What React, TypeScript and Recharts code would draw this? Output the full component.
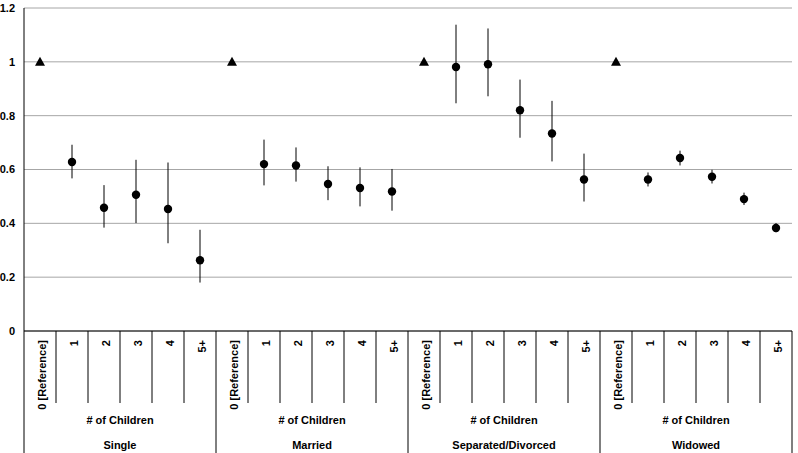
import React from "react";
import { ComposedChart, Line, XAxis, YAxis, CartesianGrid, ErrorBar } from "recharts";

const groups = ["Single", "Married", "Separated/Divorced", "Widowed"];
const childCats = ["0 [Reference]", "1", "2", "3", "4", "5+"];
const subTitle = "# of Children";
const refValue = 1;

const singleEst = [0.628, 0.458, 0.506, 0.453, 0.263];
const singleLo = [0.567, 0.384, 0.401, 0.326, 0.18];
const singleHi = [0.692, 0.542, 0.636, 0.626, 0.376];

const marriedEst = [0.62, 0.615, 0.546, 0.531, 0.518];
const marriedLo = [0.541, 0.555, 0.486, 0.463, 0.447];
const marriedHi = [0.711, 0.682, 0.612, 0.608, 0.602];

const sepEst = [0.981, 0.991, 0.82, 0.734, 0.563];
const sepLo = [0.846, 0.872, 0.718, 0.63, 0.481];
const sepHi = [1.138, 1.124, 0.934, 0.855, 0.659];

const widEst = [0.563, 0.643, 0.573, 0.49, 0.383];
const widLo = [0.537, 0.615, 0.548, 0.468, 0.366];
const widHi = [0.589, 0.67, 0.599, 0.514, 0.401];

const yTicks = [0, 0.2, 0.4, 0.6, 0.8, 1, 1.2];

const estByGroup = [singleEst, marriedEst, sepEst, widEst];
const loByGroup = [singleLo, marriedLo, sepLo, widLo];
const hiByGroup = [singleHi, marriedHi, sepHi, widHi];

const data: any[] = [];
groups.forEach((g, gi) => {
  childCats.forEach((c, ci) => {
    const est = ci === 0 ? null : estByGroup[gi][ci - 1];
    data.push({
      key: `${gi}|${ci}`,
      group: g,
      label: c,
      gi,
      ci,
      ref: ci === 0 ? refValue : null,
      est,
      err: ci === 0 ? null : [est! - loByGroup[gi][ci - 1], hiByGroup[gi][ci - 1] - est!],
    });
  });
});

const FONT = "'Liberation Sans', Arial, sans-serif";
const FS = 11;
const W = 798;
const H = 453;
const AX_H = 122;

const CircleDot = (props: any) => {
  const { cx, cy, index } = props;
  if (cy == null || cx == null || isNaN(cy)) return <g key={`c${index}`} />;
  return <circle key={`c${index}`} cx={cx} cy={cy} r={4.2} fill="#000" />;
};

const TriDot = (props: any) => {
  const { cx, cy, index } = props;
  if (cy == null || cx == null || isNaN(cy)) return <g key={`t${index}`} />;
  const s = 5;
  return (
    <path
      key={`t${index}`}
      d={`M${cx},${cy - s} L${cx + s},${cy + s * 0.8} L${cx - s},${cy + s * 0.8} Z`}
      fill="#000"
    />
  );
};

const XTick = (props: any) => {
  const { x, y, payload, index, visibleTicksCount } = props;
  const count = visibleTicksCount || data.length;
  const axisW = typeof props.width === "number" ? props.width : 768;
  const half = axisW / count / 2;
  const row = data[index] || data[payload.index];
  const ci = row.ci;
  const short = 72;
  const full = AX_H;
  const groupW = half * 2 * childCats.length;
  const left = x - half;
  return (
    <g>
      <line
        x1={left}
        x2={left}
        y1={y}
        y2={y + (ci === 0 ? full : short)}
        stroke="#000"
        strokeWidth={1}
      />
      {index === count - 1 && (
        <line x1={x + half} x2={x + half} y1={y} y2={y + full} stroke="#000" strokeWidth={1} />
      )}
      <text
        x={x + 1.5}
        y={y + 9}
        transform={`rotate(-90, ${x + 1.5}, ${y + 9})`}
        textAnchor="end"
        dominantBaseline="central"
        fontFamily={FONT}
        fontWeight="bold"
        fontSize={FS}
        fill="#000"
      >
        {row.label}
      </text>
      {ci === 0 && (
        <>
          <text
            x={left + groupW / 2}
            y={y + 89}
            textAnchor="middle"
            dominantBaseline="central"
            fontFamily={FONT}
            fontWeight="bold"
            fontSize={FS}
            fill="#000"
          >
            {subTitle}
          </text>
          <text
            x={left + groupW / 2}
            y={y + 114}
            textAnchor="middle"
            dominantBaseline="central"
            fontFamily={FONT}
            fontWeight="bold"
            fontSize={FS}
            fill="#000"
          >
            {row.group}
          </text>
        </>
      )}
    </g>
  );
};

export default function App() {
  return (
    <div style={{ position: "absolute", left: 0, top: 0, width: W, height: H, background: "#fff" }}>
      <ComposedChart
        width={W}
        height={H}
        data={data}
        margin={{ top: 8, right: 6, bottom: 0, left: 0 }}
      >
        <CartesianGrid horizontal vertical={false} stroke="#a6a6a6" strokeWidth={1} />
        <XAxis
          dataKey="key"
          type="category"
          scale="band"
          interval={0}
          height={AX_H}
          tickLine={false}
          tickSize={0}
          tickMargin={0}
          axisLine={{ stroke: "#000", strokeWidth: 1 }}
          tick={<XTick />}
        />
        <YAxis
          domain={[0, 1.2]}
          ticks={yTicks}
          width={24}
          tickLine={false}
          tickSize={0}
          tickMargin={9}
          axisLine={{ stroke: "#000", strokeWidth: 1 }}
          tick={{ fontFamily: FONT, fontWeight: "bold", fontSize: FS, fill: "#000" }}
          tickFormatter={(v: number) => String(Math.round(v * 10) / 10)}
        />
        <Line
          dataKey="ref"
          stroke="none"
          isAnimationActive={false}
          dot={<TriDot />}
          activeDot={false}
          legendType="none"
        />
        <Line
          dataKey="est"
          stroke="none"
          isAnimationActive={false}
          dot={<CircleDot />}
          activeDot={false}
          legendType="none"
        >
          <ErrorBar dataKey="err" width={0} stroke="#000" strokeWidth={1} direction="y" />
        </Line>
      </ComposedChart>
    </div>
  );
}
